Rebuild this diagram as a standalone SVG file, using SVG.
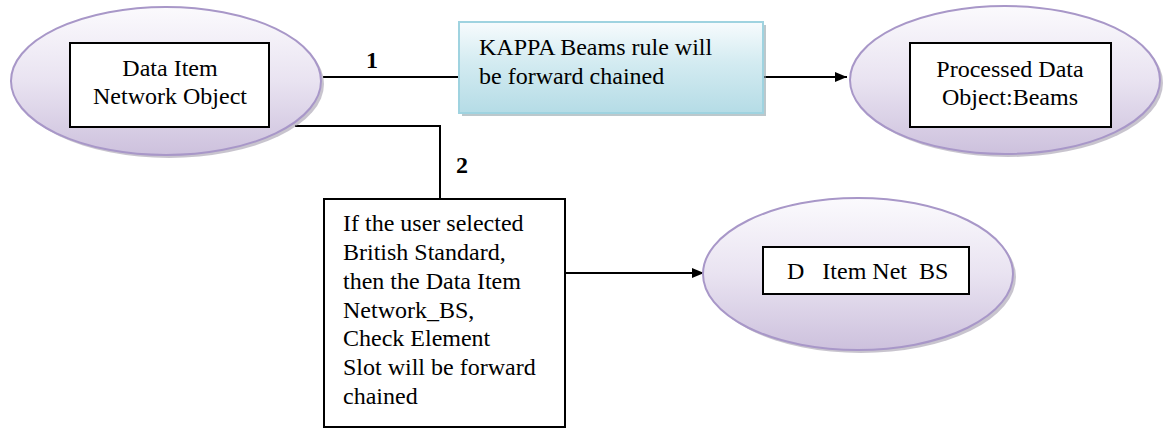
<svg xmlns="http://www.w3.org/2000/svg" width="1170" height="428" viewBox="0 0 1170 428">
<defs>
<linearGradient id="lav" x1="0" y1="0" x2="0" y2="1">
<stop offset="0" stop-color="#fbfafd"/>
<stop offset="0.5" stop-color="#e9e3f1"/>
<stop offset="1" stop-color="#cdc1dd"/>
</linearGradient>
<linearGradient id="aqua" x1="0" y1="0" x2="0" y2="1">
<stop offset="0" stop-color="#f7fbfd"/>
<stop offset="0.45" stop-color="#d3ebf1"/>
<stop offset="1" stop-color="#b5dce6"/>
</linearGradient>
<marker id="arr" markerWidth="12" markerHeight="10" refX="12" refY="5" orient="auto" markerUnits="userSpaceOnUse">
<path d="M0,0 L12,5 L0,10 Z" fill="#000"/>
</marker>
</defs>
<style>
.ell{fill:url(#lav);stroke:#a897c8;stroke-width:2}
.shd{fill:#9a93a6;opacity:0.55}
.box{fill:#fff;stroke:#000;stroke-width:2}
text{font-family:'Liberation Serif','DejaVu Serif',serif}
.t{font-size:24px;fill:#000}
.c{text-anchor:middle}
.num{font-size:24px;font-weight:bold;fill:#000}
.ln{fill:none;stroke:#000;stroke-width:2}
</style>
<rect width="1170" height="428" fill="#fff"/>
<g id="connectors">
<line class="ln" x1="323" y1="77" x2="459" y2="77"/>
<line class="ln" x1="763" y1="77" x2="847" y2="77" marker-end="url(#arr)"/>
<polyline class="ln" points="295,126 440,126 440,199"/>
<line class="ln" x1="565" y1="273" x2="704" y2="273" marker-end="url(#arr)"/>
<text class="num" x="366" y="68">1</text>
<text class="num" x="456" y="173">2</text>
</g>
<g id="node-data-item">
<ellipse class="shd" cx="169" cy="84" rx="155" ry="74"/>
<ellipse class="ell" cx="166" cy="81" rx="155" ry="74"/>
<rect class="box" x="70" y="43" width="199" height="84"/>
<text class="t c" x="170" y="76">Data Item</text>
<text class="t c" x="170" y="104">Network Object</text>
</g>
<g id="node-kappa-rule">
<rect x="462" y="25" width="304" height="91" fill="#8fa3aa" opacity="0.6"/>
<rect x="459" y="22" width="304" height="91" fill="url(#aqua)" stroke="#9fd3e0" stroke-width="2"/>
<text class="t" x="479" y="55">KAPPA Beams rule will</text>
<text class="t" x="479" y="84">be forward chained</text>
</g>
<g id="node-processed">
<ellipse class="shd" cx="1008" cy="83" rx="155" ry="74"/>
<ellipse class="ell" cx="1005" cy="80" rx="155" ry="74"/>
<rect class="box" x="910" y="43" width="201" height="84"/>
<text class="t c" x="1010" y="77">Processed Data</text>
<text class="t c" x="1010" y="105">Object:Beams</text>
</g>
<g id="node-british-standard">
<rect class="box" x="324" y="199" width="241" height="228"/>
<text class="t" x="343" y="231">If the user selected</text>
<text class="t" x="343" y="260">British Standard,</text>
<text class="t" x="343" y="289">then the Data Item</text>
<text class="t" x="343" y="318">Network_BS,</text>
<text class="t" x="343" y="346">Check Element</text>
<text class="t" x="343" y="375">Slot will be forward</text>
<text class="t" x="343" y="404">chained</text>
</g>
<g id="node-item-net-bs">
<ellipse class="shd" cx="861" cy="277" rx="155" ry="76"/>
<ellipse class="ell" cx="858" cy="274" rx="155" ry="76"/>
<rect class="box" x="763" y="247" width="206" height="47"/>
<text class="t" x="787" y="279" xml:space="preserve">D   Item Net  BS</text>
</g>
</svg>
